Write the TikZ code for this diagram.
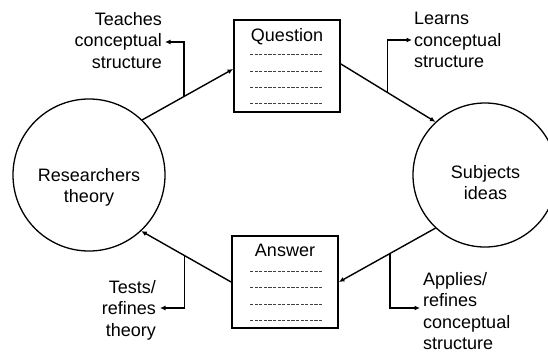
\documentclass[tikz,border=0pt]{standalone}
\usepackage{fontspec}
\setmainfont{Liberation Sans}
\usetikzlibrary{arrows.meta,calc}

\tikzset{
  idea/.style={circle,draw,line width=1.3pt,inner sep=0pt},
  card/.style={rectangle,draw,line width=1.8pt,inner sep=0pt,minimum width=106pt,minimum height=92pt},
  flow/.style={line width=1.4pt,-{Latex[length=5.5pt,width=5pt]}},
  note/.style={inner sep=0pt,font=\fontsize{18}{21.5}\selectfont},
  blank/.style={line width=0.7pt,draw=black!75,dash pattern=on 3.2pt off 1.4pt},
}

\begin{document}
\begin{tikzpicture}[x=1pt,y=-1pt]
\useasboundingbox (0,0) rectangle (548,354);

% the two participants
\node[idea,minimum size=152pt] (L) at (89,175) {};
\node[idea,minimum size=144pt] (R) at (485,175) {};
\node[note,align=center,anchor=north] (Ltext) at (89,168) {Researchers\\theory};
\node[note,align=center,anchor=north] (Rtext) at (485.5,165) {Subjects\\ideas};

% question and answer cards
\node[card] (Q) at (287,66) {};
\node[card] (A) at (285,282) {};
\node[note,anchor=base] (Qtext) at (287,41) {Question};
\node[note,anchor=base] (Atext) at (285,256) {Answer};
\foreach \y in {54,71,87,103} \draw[blank] (250,\y) -- (323,\y);
\foreach \y in {271,287,304,320} \draw[blank] (250,\y) -- (322,\y);

% side notes
\node[note,align=right,anchor=north east] (T) at (162,12) {Teaches\\conceptual\\structure};
\node[note,align=left,anchor=north west] (Ln) at (414,12) {Learns\\conceptual\\structure};
\node[note,align=right,anchor=north east] (Te) at (156,280) {Tests/\\refines\\theory};
\node[note,align=left,anchor=north west] (Ap) at (423,272) {Applies/\\refines\\conceptual\\structure};

\coordinate (t1) at (165,42);
\coordinate (l1) at (412,40);
\coordinate (e1) at (160,308);
\coordinate (p1) at (420,308);

% main cycle
\draw[flow] (L.46) -- coordinate[pos=0.458] (b1) ($(Q.west)+(0,3)$);
\draw[flow] ($(Q.east)+(0,-2)$) -- coordinate[pos=0.49] (b2) (R.133);
\draw[flow] (R.227) -- coordinate[pos=0.469] (b3) (A.east);
\draw[flow] (A.west) -- coordinate[pos=0.518] (b4) (L.313.5);

% branches to the notes
\draw[flow] (b1) |- (t1);
\draw[flow] (b2) |- (l1);
\draw[flow] (b3) |- (p1);
\draw[flow] (b4) |- (e1);
\end{tikzpicture}
\end{document}
